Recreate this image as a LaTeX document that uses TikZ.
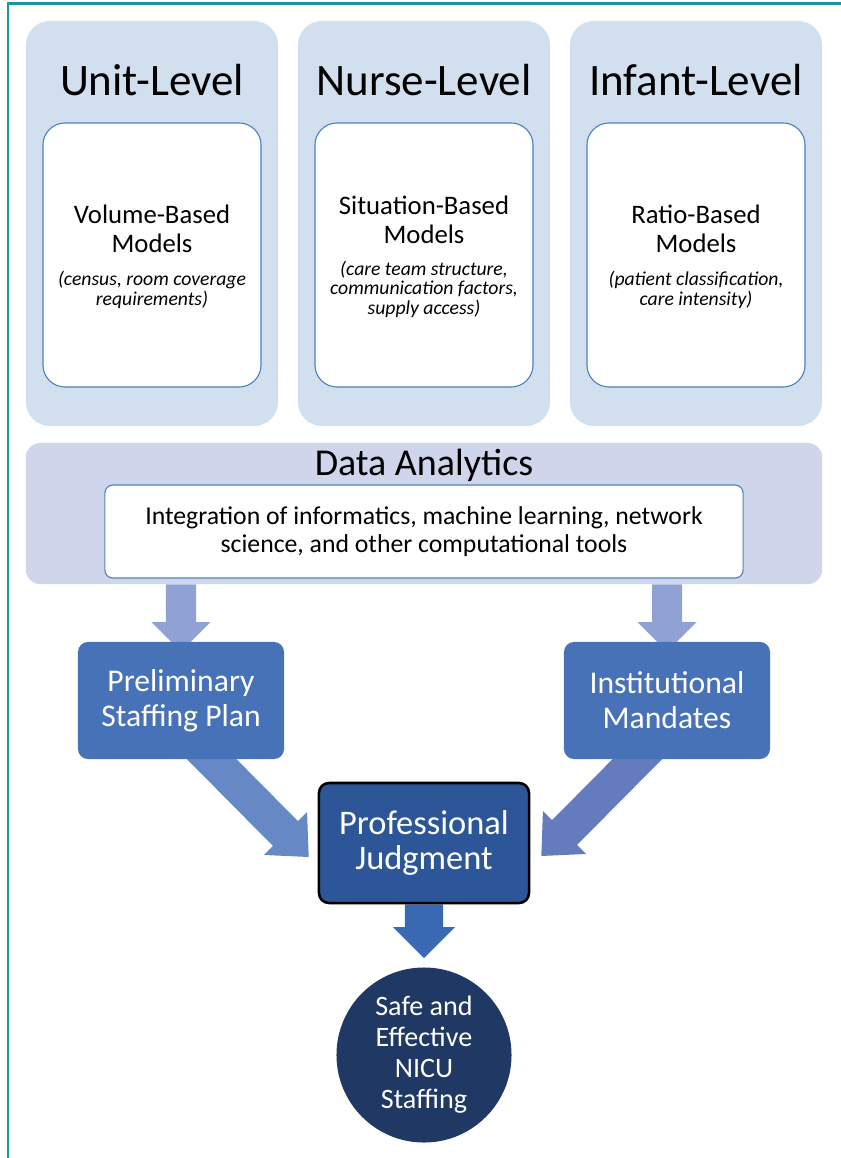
\documentclass[tikz,border=0pt]{standalone}
\usepackage{fontspec}
\setmainfont{Carlito}
\usetikzlibrary{calc,backgrounds}

\definecolor{framecol}{HTML}{1298A8}
\definecolor{levelcol}{HTML}{D2DFEE}
\definecolor{edgecol}{HTML}{4F81BD}
\definecolor{datacol}{HTML}{CFD5EA}
\definecolor{downcol}{HTML}{8FA2D3}
\definecolor{stepcol}{HTML}{4872B8}
\definecolor{leftcol}{HTML}{6689C6}
\definecolor{rightcol}{HTML}{647CBE}
\definecolor{judgecol}{HTML}{2C5697}
\definecolor{lastcol}{HTML}{3A69B4}
\definecolor{goalcol}{HTML}{1F3864}

% #1 colour, #2 from, #3 tip, #4 half shaft, #5 half head, #6 head length
\newcommand{\blockarrow}[6]{%
  \coordinate (neck) at ($(#3)!#6!(#2)$);
  \fill[#1] ($(#2)!#4!90:(#3)$) -- ($(neck)!#4!90:(#3)$) -- ($(neck)!#5!90:(#3)$)
    -- (#3) -- ($(neck)!#5!-90:(#3)$) -- ($(neck)!#4!-90:(#3)$) -- ($(#2)!#4!-90:(#3)$) -- cycle;
}
\newcommand{\modelnote}[1]{{\itshape\fontsize{14}{13.6}\selectfont\begin{tabular}[t]{@{}c@{}}#1\end{tabular}}}

\tikzset{
  frame/.style={draw=framecol, line width=1.8pt},
  level/.style={fill=levelcol, rounded corners=0.6cm, minimum width=6.3cm, minimum height=10.125cm},
  leveltitle/.style={anchor=base, font=\fontsize{32}{36}\selectfont},
  model/.style={draw=edgecol, line width=0.8pt, fill=white, rounded corners=0.55cm,
    minimum width=5.45cm, minimum height=6.6cm},
  modeltext/.style={align=center, font=\fontsize{19}{20.6}\selectfont},
  data/.style={fill=datacol, rounded corners=0.35cm, minimum width=19.9cm, minimum height=3.525cm},
  tools/.style={draw=edgecol, line width=0.8pt, fill=white, rounded corners=0.2cm,
    minimum width=15.95cm, minimum height=2.325cm, align=center, font=\fontsize{18.3}{19.8}\selectfont},
  stepbox/.style={fill=stepcol, text=white, rounded corners=0.25cm, minimum width=5.15cm,
    minimum height=2.925cm, align=center, font=\fontsize{22.5}{24.8}\selectfont},
  judge/.style={fill=judgecol, draw=black, line width=1.8pt, text=white, rounded corners=0.25cm,
    minimum width=5.25cm, minimum height=3cm, align=center, font=\fontsize{24.5}{24.8}\selectfont},
  goal/.style={circle, fill=goalcol, text=white, minimum size=4.375cm, inner sep=0pt,
    align=center, font=\fontsize{20}{22}\selectfont}
}

\begin{document}
\begin{tikzpicture}[x=0.025cm, y=-0.025cm]
  \useasboundingbox (0,0) rectangle (841,1158);
  \draw[frame] (8,1158) -- (8,3.5) -- (841,3.5);

  % three levels
  \node[level] (unit)   at (152,223.5) {};
  \node[level] (nurse)  at (424,223.5) {};
  \node[level] (infant) at (696,223.5) {};
  \node[leveltitle] (unittitle)   at (152,95) {Unit-Level};
  \node[leveltitle] (nursetitle)  at (424,95) {Nurse-Level};
  \node[leveltitle] (infanttitle) at (696,95) {Infant-Level};

  \node[model] (volume)    at (152,255) {};
  \node[model] (situation) at (424,255) {};
  \node[model] (ratio)     at (696,255) {};
  \node[modeltext] (volumetext)    at ($(volume)+(0,3)$) {Volume-Based\\Models\\[3pt]\modelnote{(census, room coverage\\requirements)}};
  \node[modeltext] (situationtext) at ($(situation)+(0,3)$) {Situation-Based\\Models\\[2pt]\modelnote{(care team structure,\\communication factors,\\supply access)}};
  \node[modeltext] (ratiotext)     at ($(ratio)+(0,3)$) {Ratio-Based\\Models\\[3pt]\modelnote{(patient classification,\\care intensity)}};

  % data analytics
  \node[data] (data) at (424,513.5) {};
  \node[leveltitle, font=\fontsize{27}{30}\selectfont] (datatitle) at (424,475) {Data Analytics};
  \node[tools] (tools) at (424,531.5) {Integration of informatics, machine learning, network\\science, and other computational tools};

  % flow
  \node[stepbox] (prelim) at (181,700.5) {Preliminary\\Staffing Plan};
  \node[stepbox] (inst)   at (667,700.5) {Institutional\\Mandates};
  \node[judge] (judgment) at (424,843) {Professional\\Judgment};
  \node[goal] (goal) at (424,1055) {Safe and\\Effective\\NICU\\Staffing};

  \begin{scope}[on background layer]
    \blockarrow{downcol}{data.south -| prelim.north}{$(prelim.north)+(0,10)$}{0.375cm}{0.74cm}{0.74cm}
    \blockarrow{downcol}{data.south -| inst.north}{$(inst.north)+(0,10)$}{0.375cm}{0.74cm}{0.74cm}
    \coordinate (lfrom) at ($(prelim.south)+(14,-17)$);
    \coordinate (lto)   at ($(judgment.west)+(-9,14)$);
    \blockarrow{leftcol}{lfrom}{lto}{0.44cm}{0.76cm}{0.825cm}
    \coordinate (rfrom) at ($(inst.south)+(-12,-18)$);
    \coordinate (rto)   at ($(judgment.east)+(11,13)$);
    \blockarrow{rightcol}{rfrom}{rto}{0.44cm}{0.76cm}{0.825cm}
    \coordinate (gto) at ($(goal.north)+(0,-9)$);
    \blockarrow{lastcol}{judgment.south}{gto}{0.475cm}{0.775cm}{0.775cm}
  \end{scope}
\end{tikzpicture}
\end{document}
